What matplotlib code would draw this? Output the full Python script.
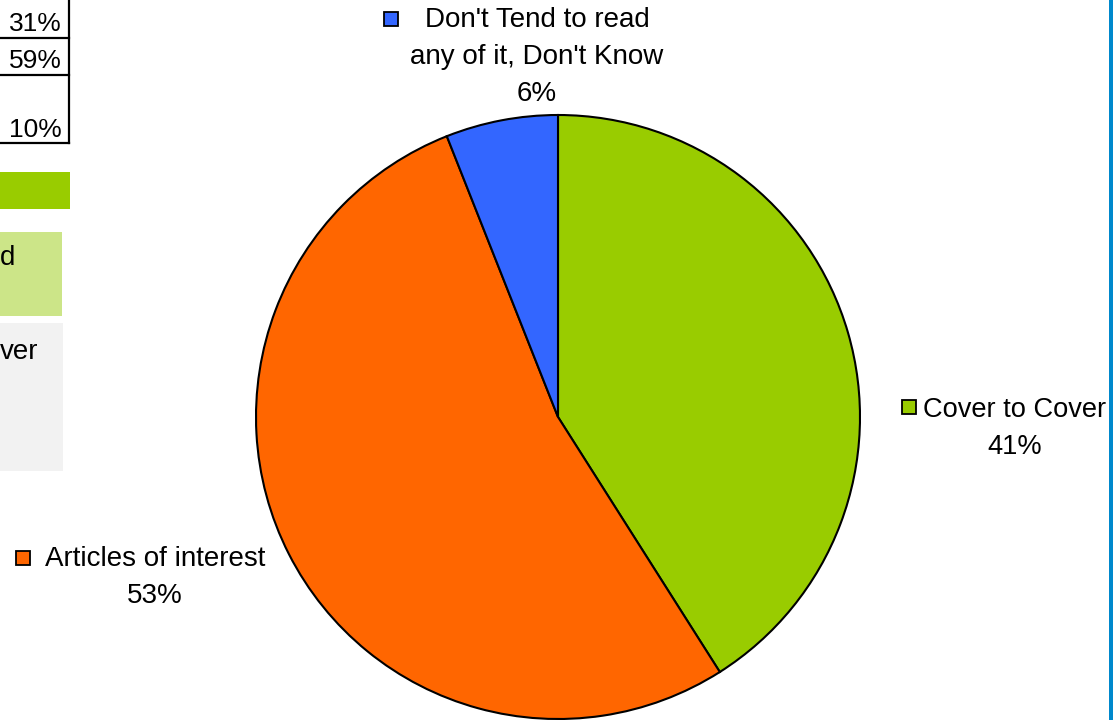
import matplotlib
matplotlib.use("Agg")
import matplotlib.pyplot as plt
from matplotlib.patches import Rectangle

# ---- data ----
categories = ["Cover to Cover", "Articles of interest", "Don't Tend to read\nany of it, Don't Know"]
values = [41, 53, 6]
colors = ["#99CC00", "#FF6600", "#3366FF"]
table_values = ["31%", "59%", "10%"]
side_texts = ["d", "ver"]

plt.rcParams["font.family"] = ["Liberation Sans", "DejaVu Sans"]
FS = 20

fig = plt.figure(figsize=(11.13, 7.2), dpi=100)
ax = fig.add_axes([0, 0, 1, 1])
ax.set_xlim(0, 1113)
ax.set_ylim(720, 0)
ax.axis("off")

# pie (y axis inverted: startangle -90 = top, counterclock -> visually clockwise)
ax.pie(values, colors=colors, startangle=-90, counterclock=True,
       center=(558, 417), radius=302,
       wedgeprops=dict(edgecolor="black", linewidth=1.5))
ax.set_xlim(0, 1113)
ax.set_ylim(720, 0)
ax.set_aspect("auto")

# data labels with legend keys
label_specs = [
    # (key box x, key box y, text center x, first line y, font size)
    (902, 400, 1015, 410, 19.6),
    (16, 551, 155, 559, 20),
    (384, 12, 537, 20, 20),
]
for (cat, val, col, (kx, ky, tx, ty, fs)) in zip(categories, values, colors, label_specs):
    lines = cat.split("\n") + [f"{val}%"]
    for i, line in enumerate(lines):
        ax.text(tx, ty + i * 37, line, ha="center", va="center", fontsize=fs, color="black")
    ax.add_patch(Rectangle((kx, ky), 14, 14, facecolor=col, edgecolor="black", linewidth=1.3))

# partial table at left
ax.plot([69, 69], [0, 143], color="black", lw=1.6)
for yy in (38, 75, 143):
    ax.plot([0, 69], [yy, yy], color="black", lw=1.6)
for txt, yy in zip(table_values, (24, 61, 130)):
    ax.text(62, yy, txt, ha="right", va="center", fontsize=19, color="black")

# coloured boxes at left
ax.add_patch(Rectangle((0, 172), 70, 37, facecolor="#99CC00", edgecolor="none"))
ax.add_patch(Rectangle((0, 232), 62, 84, facecolor="#CCE588", edgecolor="none"))
ax.add_patch(Rectangle((0, 323), 63, 148, facecolor="#F2F2F2", edgecolor="none"))
ax.text(0, 258, side_texts[0], ha="left", va="center", fontsize=FS, color="black")
ax.text(0, 352, side_texts[1], ha="left", va="center", fontsize=FS, color="black")

# right edge blue bar
ax.add_patch(Rectangle((1109, 0), 4, 720, facecolor="#0088CC", edgecolor="none"))

fig.savefig("out.png", dpi=100)
